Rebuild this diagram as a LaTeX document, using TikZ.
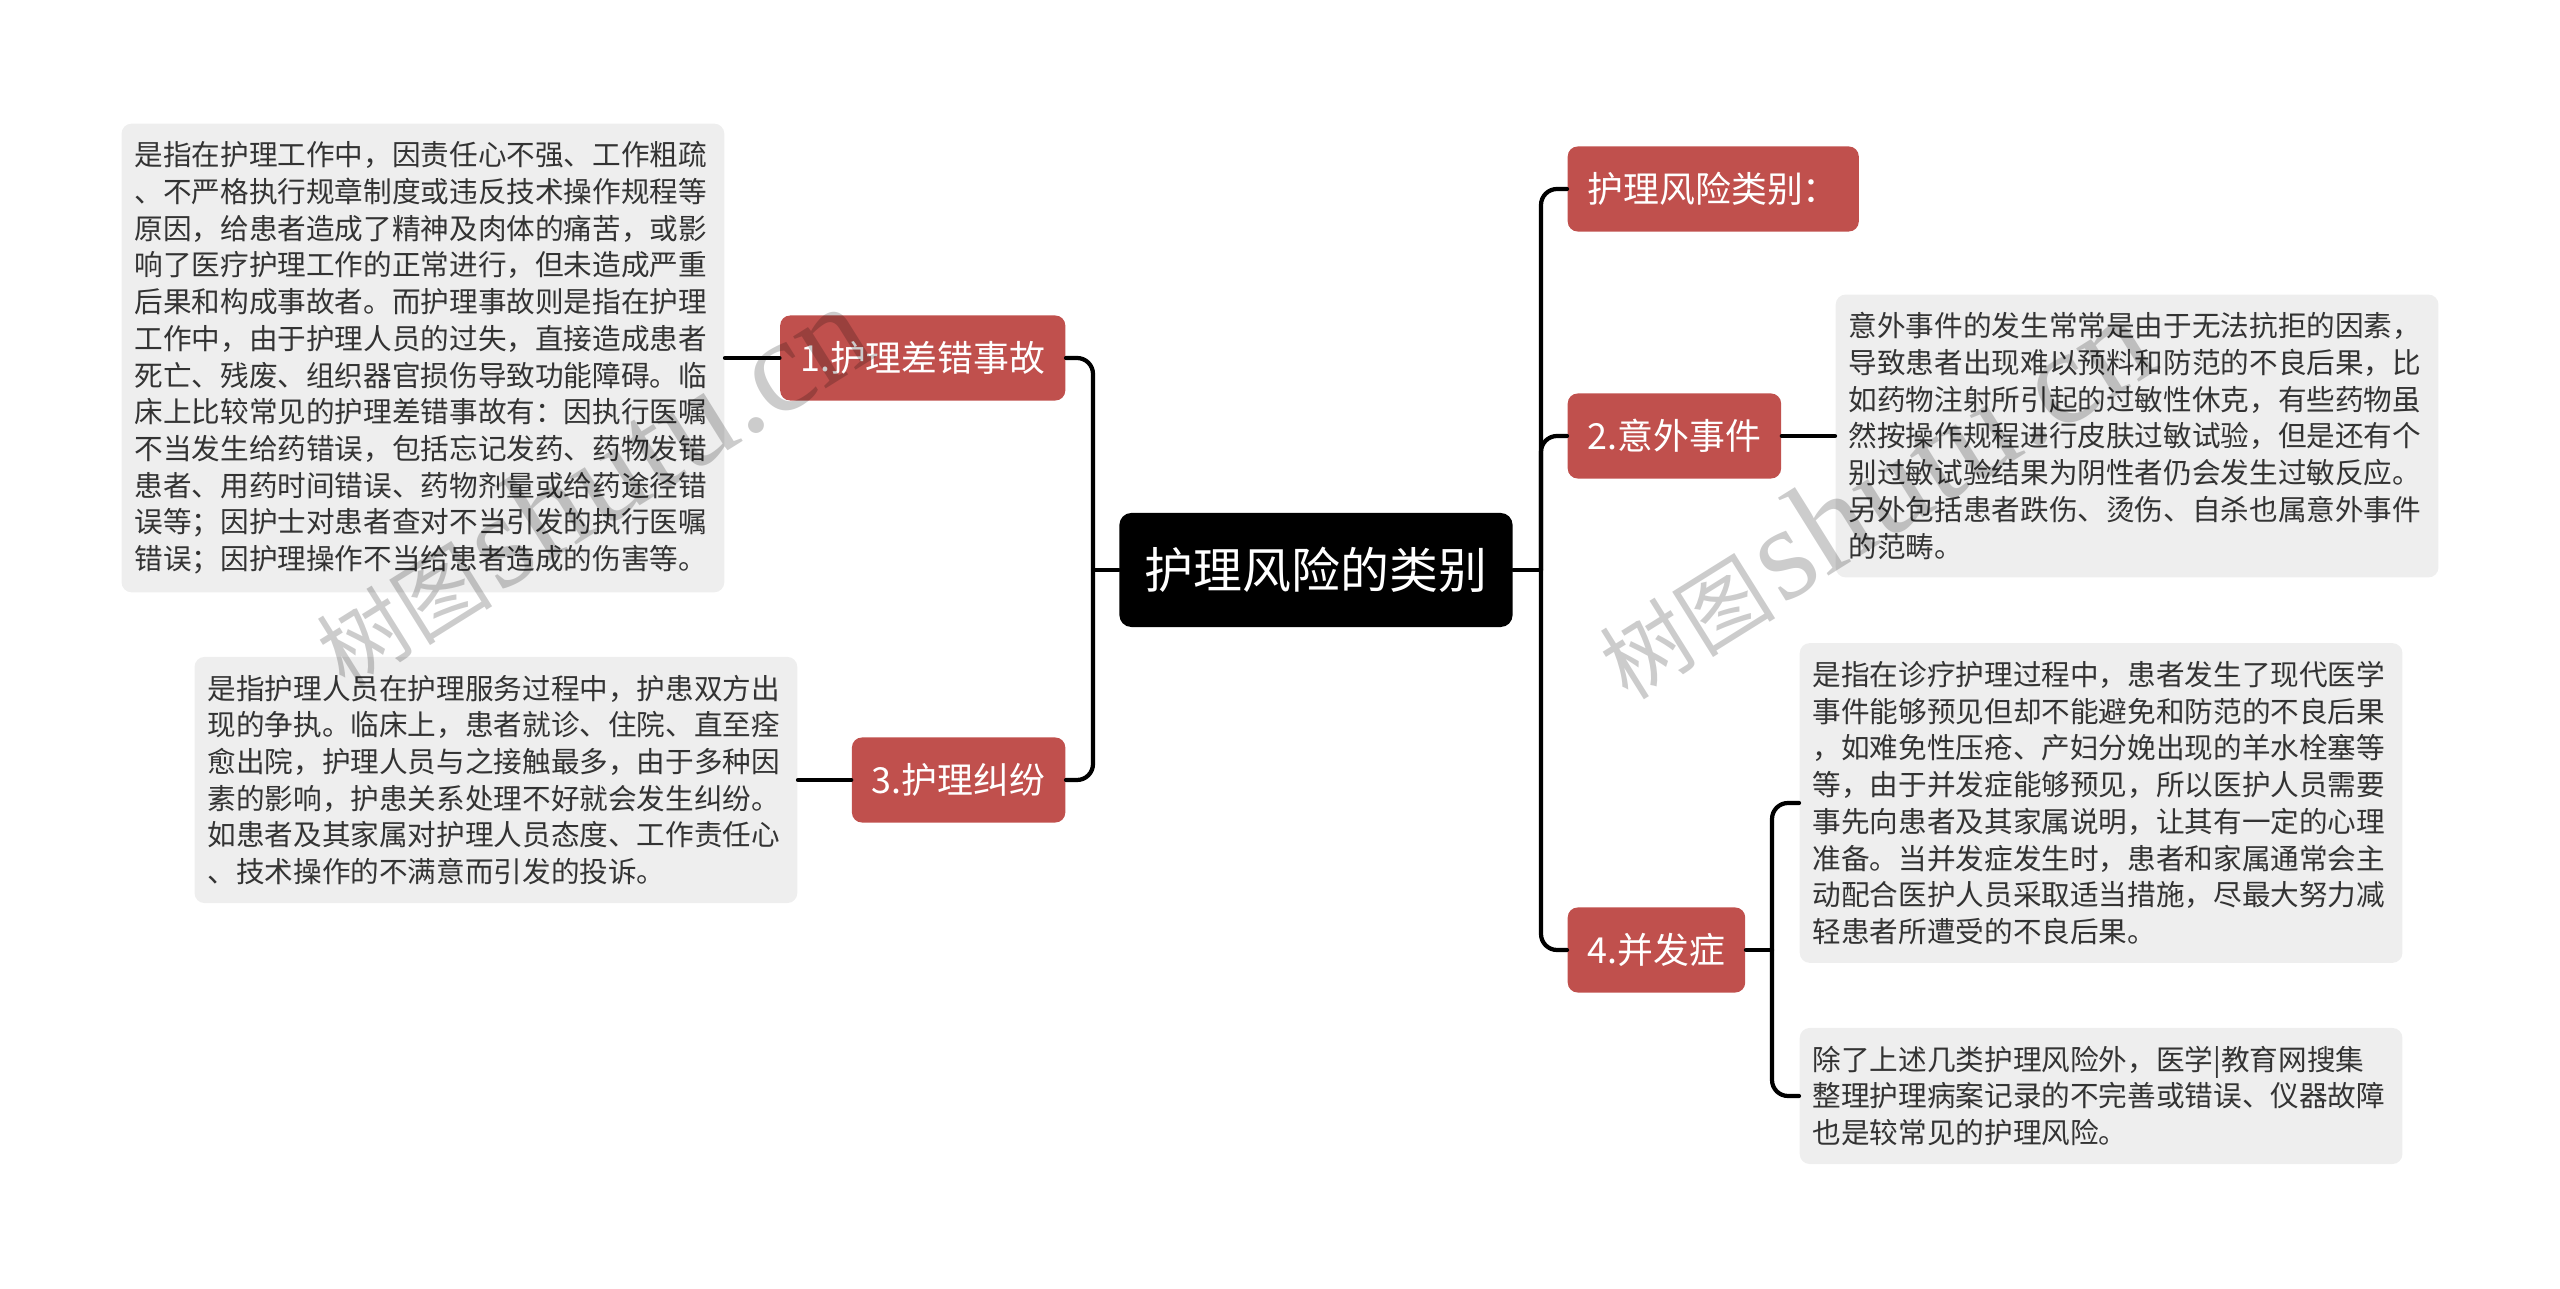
\documentclass[tikz,border=0pt]{standalone}
\usepackage{fontspec}
\setmainfont{Noto Sans CJK SC}
\newfontfamily\wmlatin{Liberation Serif}
\usetikzlibrary{positioning}
\definecolor{topicred}{RGB}{192,80,77}
\definecolor{notegray}{RGB}{238,238,238}
\definecolor{notetext}{RGB}{51,51,51}

\begin{document}
\begin{tikzpicture}[x=0.01cm,y=-0.01cm,line cap=round,
  conn/.style={line width=1.2pt,rounded corners=0.16cm},
  rootbox/.style={fill=black,text=white,rounded corners=0.12cm,minimum width=3.93cm,minimum height=1.14cm,font=\fontsize{13.9pt}{16pt}\selectfont},
  topic/.style={fill=topicred,text=white,rounded corners=0.1cm,inner xsep=0.2cm,inner ysep=0pt,minimum height=0.85cm,font=\fontsize{10.2pt}{12pt}\selectfont},
  note/.style={fill=notegray,text=notetext,rounded corners=0.1cm,align=left,text width=164pt,inner xsep=0.13cm,inner ysep=0.18cm,font=\fontsize{8.14pt}{10.44pt}\selectfont},
  wmark/.style={text=black,opacity=0.2,rotate=32,anchor=base west,inner sep=0pt}]
\useasboundingbox (0,0) rectangle (2560,1289);

\node[rootbox] (root) at (1316,570) {护理风险的类别};

\node[topic,anchor=east] (t1) at (1066,358) {1.护理差错事故};
\node[topic,anchor=east] (t3) at (1066,780) {3.护理纠纷};
\node[topic,anchor=west] (t0) at (1567,189) {护理风险类别：};
\node[topic,anchor=west] (t2) at (1567,436) {2.意外事件};
\node[topic,anchor=west] (t4) at (1567,950) {4.并发症};

\node[note,anchor=east] (d1) at (725,358) {是指在护理工作中，因责任心不强、工作粗疏\\、不严格执行规章制度或违反技术操作规程等\\原因，给患者造成了精神及肉体的痛苦，或影\\响了医疗护理工作的正常进行，但未造成严重\\后果和构成事故者。而护理事故则是指在护理\\工作中，由于护理人员的过失，直接造成患者\\死亡、残废、组织器官损伤导致功能障碍。临\\床上比较常见的护理差错事故有：因执行医嘱\\不当发生给药错误，包括忘记发药、药物发错\\患者、用药时间错误、药物剂量或给药途径错\\误等；因护士对患者查对不当引发的执行医嘱\\错误；因护理操作不当给患者造成的伤害等。};
\node[note,anchor=east] (d3) at (798,780) {是指护理人员在护理服务过程中，护患双方出\\现的争执。临床上，患者就诊、住院、直至痊\\愈出院，护理人员与之接触最多，由于多种因\\素的影响，护患关系处理不好就会发生纠纷。\\如患者及其家属对护理人员态度、工作责任心\\、技术操作的不满意而引发的投诉。};
\node[note,anchor=west] (d2) at (1835,436) {意外事件的发生常常是由于无法抗拒的因素，\\导致患者出现难以预料和防范的不良后果，比\\如药物注射所引起的过敏性休克，有些药物虽\\然按操作规程进行皮肤过敏试验，但是还有个\\别过敏试验结果为阴性者仍会发生过敏反应。\\另外包括患者跌伤、烫伤、自杀也属意外事件\\的范畴。};
\node[note,anchor=west] (d4a) at (1799,803) {是指在诊疗护理过程中，患者发生了现代医学\\事件能够预见但却不能避免和防范的不良后果\\，如难免性压疮、产妇分娩出现的羊水栓塞等\\等，由于并发症能够预见，所以医护人员需要\\事先向患者及其家属说明，让其有一定的心理\\准备。当并发症发生时，患者和家属通常会主\\动配合医护人员采取适当措施，尽最大努力减\\轻患者所遭受的不良后果。};
\node[note,anchor=west] (d4b) at (1799,1096) {除了上述几类护理风险外，医学|教育网搜集\\整理护理病案记录的不完善或错误、仪器故障\\也是较常见的护理风险。};

\coordinate (lj) at (1093,570);
\coordinate (rj) at (1541,570);
\coordinate (sj) at (1772,950);
\draw[conn] (root.west) -- (lj);
\draw[conn] (t1.east) -| (lj) |- (t3.east);
\draw[conn] (root.east) -- (rj);
\draw[conn] (t0.west) -| (rj) |- (t4.west);
\draw[conn] (rj) |- (t2.west);
\draw[conn] (t1.west) -- (d1.east);
\draw[conn] (t3.west) -- (d3.east);
\draw[conn] (t2.east) -- (d2.west);
\draw[conn] (t4.east) -- (sj);
\draw[conn] (d4a.west) -| (sj) |- (d4b.west);

\node[wmark] (wm1) at (345,690) {{\fontsize{25pt}{25pt}\selectfont 树图}\,{\wmlatin\fontsize{38pt}{38pt}\selectfont shutu.cn}};
\node[wmark] (wm2) at (1628,702) {{\fontsize{25pt}{25pt}\selectfont 树图}\,{\wmlatin\fontsize{38pt}{38pt}\selectfont shutu.cn}};
\end{tikzpicture}
\end{document}
